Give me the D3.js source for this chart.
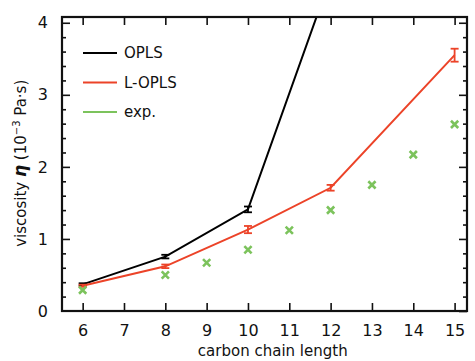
<!DOCTYPE html>
<html>
<head>
<meta charset="utf-8">
<script src="https://cdn.jsdelivr.net/npm/d3@7"></script>
<style>
  body { margin: 0; background: #fff; }
  text { font-family: 'DejaVu Sans', sans-serif; fill: #111; }
</style>
</head>
<body>
<svg id="chart" width="475" height="361"></svg>
<script>
// ====== data ======
var chainLength = [6, 8, 10, 12]
var oplsValues = [0.37, 0.755, 1.41, 4.63]
var oplsErrors = [0.015, 0.025, 0.04, 0.05]

var loplsLength = [6, 8, 10, 12, 15]
var loplsValues = [0.35, 0.62, 1.13, 1.71, 3.55]
var loplsErrors = [0.015, 0.025, 0.05, 0.04, 0.09]

var expLength = [6, 8, 9, 10, 11, 12, 13, 14, 15]
var expValues = [0.29, 0.5, 0.67, 0.85, 1.12, 1.4, 1.75, 2.17, 2.59]

var xTicks = [6, 7, 8, 9, 10, 11, 12, 13, 14, 15]
var yTicks = [0, 1, 2, 3, 4]

var legendNames = ['OPLS', 'L-OPLS', 'exp.']
var colors = ['#000000', '#ec4328', '#7cc35c']

// ====== layout ======
var margin = { left: 62, top: 17, right: 8, bottom: 50 }
var width = 475 - margin.left - margin.right
var height = 361 - margin.top - margin.bottom

var svg = d3.select('#chart')
var g = svg.append('g')
  .attr('transform', 'translate(' + margin.left + ',' + margin.top + ')')

var x = d3.scaleLinear().domain([5.5, 15.3]).range([0, width])
var y = d3.scaleLinear().domain([0, 4.08]).range([height, 0])

// clip so the OPLS line stops at the frame
g.append('clipPath').attr('id', 'clip')
  .append('rect').attr('width', width).attr('height', height)

var plot = g.append('g').attr('clip-path', 'url(#clip)')

var line = d3.line()
  .x(function (d) { return x(d[0]) })
  .y(function (d) { return y(d[1]) })

function drawSeries (xs, vals, errs, color) {
  var pts = xs.map(function (v, i) { return [v, vals[i], errs[i]] })
  plot.append('path')
    .datum(pts)
    .attr('fill', 'none')
    .attr('stroke', color)
    .attr('stroke-width', 2)
    .attr('d', line)
  var eb = plot.selectAll(null).data(pts).enter().append('g')
    .attr('stroke', color).attr('stroke-width', 1.8)
  eb.append('line')
    .attr('x1', function (d) { return x(d[0]) }).attr('x2', function (d) { return x(d[0]) })
    .attr('y1', function (d) { return y(d[1] - d[2]) }).attr('y2', function (d) { return y(d[1] + d[2]) })
  eb.append('line')
    .attr('x1', function (d) { return x(d[0]) - 4 }).attr('x2', function (d) { return x(d[0]) + 4 })
    .attr('y1', function (d) { return y(d[1] - d[2]) }).attr('y2', function (d) { return y(d[1] - d[2]) })
  eb.append('line')
    .attr('x1', function (d) { return x(d[0]) - 4 }).attr('x2', function (d) { return x(d[0]) + 4 })
    .attr('y1', function (d) { return y(d[1] + d[2]) }).attr('y2', function (d) { return y(d[1] + d[2]) })
}

drawSeries(chainLength, oplsValues, oplsErrors, colors[0])
drawSeries(loplsLength, loplsValues, loplsErrors, colors[1])

// experimental points as crosses
var cross = d3.symbol().type(d3.symbolX).size(36)
plot.selectAll('.exp')
  .data(expLength.map(function (v, i) { return [v, expValues[i]] }))
  .enter().append('path')
  .attr('class', 'exp')
  .attr('transform', function (d) { return 'translate(' + x(d[0]) + ',' + y(d[1]) + ')' })
  .attr('d', cross)
  .attr('fill', 'none')
  .attr('stroke', colors[2])
  .attr('stroke-width', 2.6)

// ====== axes (ticks point inward) ======
var minorY = d3.range(0, 4.01, 0.2).filter(function (v) { return Math.abs(v - Math.round(v)) > 0.01 })

var left = g.append('g')
  .call(d3.axisLeft(y).tickValues(yTicks).tickSize(-8).tickPadding(14).tickFormat(d3.format('d')))
left.selectAll('.tick').filter(function (d) { return d === 0 }).select('line').remove()
g.append('g')
  .call(d3.axisLeft(y).tickValues(minorY).tickSize(-4).tickFormat(''))
g.append('g').attr('transform', 'translate(' + width + ',0)')
  .call(d3.axisRight(y).tickValues(yTicks).tickSize(-8).tickFormat(''))
g.append('g').attr('transform', 'translate(' + width + ',0)')
  .call(d3.axisRight(y).tickValues(minorY).tickSize(-4).tickFormat(''))

g.append('g').attr('transform', 'translate(0,' + height + ')')
  .call(d3.axisBottom(x).tickValues(xTicks).tickSize(-8).tickPadding(14).tickFormat(d3.format('d')))
g.append('g')
  .call(d3.axisTop(x).tickValues(xTicks).tickSize(-8).tickFormat(''))

g.selectAll('.domain').remove()
g.selectAll('.tick line').attr('stroke', '#111').attr('stroke-width', 1.6)
g.selectAll('.tick text').style('font-size', '16px').attr('fill', '#111')

g.append('rect')
  .attr('width', width).attr('height', height)
  .attr('fill', 'none').attr('stroke', '#111').attr('stroke-width', 2.2)

// ====== axis titles ======
g.append('text')
  .attr('x', x(10.6)).attr('y', height + 45)
  .attr('text-anchor', 'middle')
  .style('font-size', '15px')
  .text('carbon chain length')

var yl = svg.append('text')
  .attr('transform', 'translate(26,' + (margin.top + y(2.05)) + ') rotate(-90)')
  .attr('text-anchor', 'middle')
  .style('font-size', '15px')
yl.append('tspan').text('viscosity ')
yl.append('tspan').text('η').style('font-style', 'italic').style('font-weight', 'bold').style('font-size', '17px')
yl.append('tspan').text(' (10')
yl.append('tspan').text('−3').attr('dy', -6).style('font-size', '10px')
yl.append('tspan').text(' Pa·s)').attr('dy', 6)

// ====== legend ======
var legend = g.selectAll('.legend')
  .data(legendNames)
  .enter().append('g')
  .attr('transform', function (d, i) { return 'translate(21,' + (36 + i * 29.5) + ')' })
legend.append('line')
  .attr('x1', 0).attr('x2', 34)
  .attr('stroke', function (d, i) { return colors[i] })
  .attr('stroke-width', 2.2)
legend.append('text')
  .attr('x', 41).attr('dy', '0.35em')
  .style('font-size', '15px')
  .text(function (d) { return d })
</script>
</body>
</html>
